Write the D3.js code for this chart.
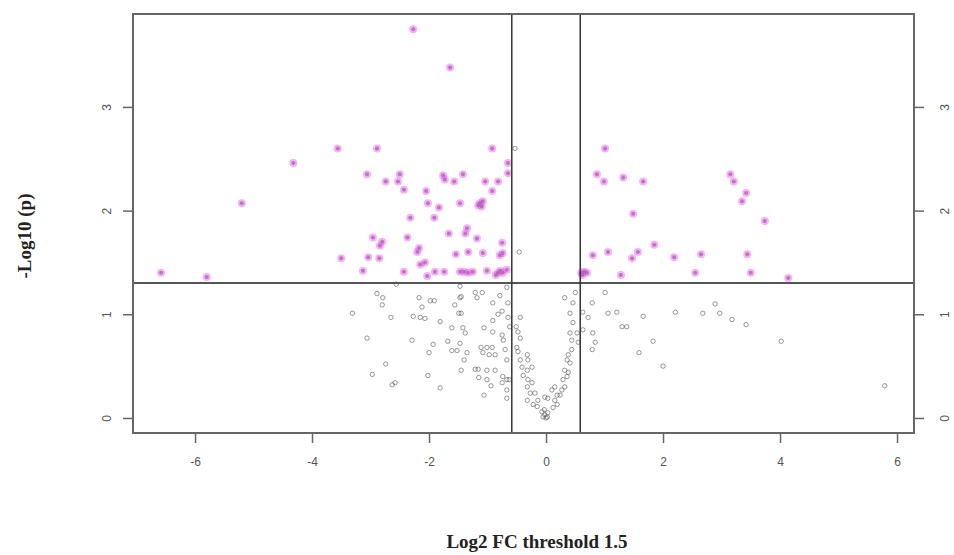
<!DOCTYPE html>
<html>
<head>
<meta charset="utf-8">
<script src="https://cdn.jsdelivr.net/npm/d3@7"></script>
<style>
    body { margin: 0; background: #fff; }
    svg { display: block; }
</style>
</head>
<body>
<svg id="chart" width="954" height="555"></svg>
<script>
// significant features (|log2 FC| > log2(1.5) and p < 0.05) : [log2FC, -log10 p]
let sigPoints = [
    [-2.27, 3.75], [-1.64, 3.38], [-3.56, 2.60], [-2.89, 2.60], [-0.92, 2.60], [-4.32, 2.46], [-5.20, 2.07],
    [-6.58, 1.40], [-5.80, 1.36], [-3.06, 2.35], [-2.74, 2.28], [-2.50, 2.35], [-2.53, 2.28], [-2.43, 2.20],
    [-2.05, 2.19], [-2.02, 2.07], [-1.83, 2.03], [-2.32, 1.93], [-1.91, 1.93], [-1.76, 2.34], [-1.73, 2.30],
    [-1.57, 2.28], [-1.42, 2.35], [-1.47, 2.07], [-1.04, 2.28], [-0.82, 2.28], [-0.92, 2.19], [-0.65, 2.46],
    [-0.65, 2.36], [-1.13, 2.07], [-1.08, 2.09], [-1.16, 2.05], [-1.10, 2.04], [-2.96, 1.74], [-2.80, 1.70],
    [-2.84, 1.66], [-2.37, 1.74], [-2.17, 1.64], [-2.20, 1.60], [-1.66, 1.78], [-1.35, 1.83], [-1.38, 1.78],
    [-1.18, 1.73], [-0.75, 1.69], [-3.50, 1.54], [-3.04, 1.55], [-2.85, 1.54], [-1.54, 1.58], [-1.33, 1.60],
    [-1.08, 1.59], [-0.79, 1.57], [-0.74, 1.59], [-3.13, 1.42], [-2.43, 1.41], [-2.15, 1.48], [-2.07, 1.50],
    [-2.03, 1.37], [-1.90, 1.41], [-1.74, 1.41], [-1.47, 1.41], [-1.40, 1.41], [-1.33, 1.40], [-1.25, 1.41],
    [-1.01, 1.42], [-0.82, 1.40], [-0.74, 1.40], [-0.67, 1.43], [-0.86, 1.38], [-0.78, 1.42],
    [1.01, 2.60], [0.87, 2.35], [0.99, 2.28], [1.32, 2.32], [1.66, 2.28], [1.49, 1.97], [0.80, 1.57],
    [1.06, 1.60], [1.47, 1.54], [1.57, 1.60], [1.85, 1.67], [2.19, 1.55], [2.65, 1.58], [1.28, 1.38],
    [2.55, 1.40], [3.15, 2.35], [3.21, 2.28], [3.42, 2.17], [3.35, 2.09], [3.74, 1.90], [3.44, 1.58],
    [3.50, 1.40], [4.14, 1.35], [0.60, 1.40], [0.65, 1.41], [0.70, 1.40], [0.62, 1.38]
];

// not significant features
let nsPoints = [
    [-3.31, 1.01], [-2.89, 1.20], [-2.79, 1.16], [-2.80, 1.09], [-2.65, 0.97], [-3.06, 0.77], [-2.74, 0.52],
    [-2.97, 0.42], [-2.58, 0.34], [-2.63, 0.32], [-2.29, 0.75], [-2.27, 0.98], [-2.15, 0.97], [-2.07, 0.96],
    [-2.17, 1.16], [-2.12, 1.07], [-1.98, 1.13], [-1.91, 1.13], [-1.81, 0.93], [-1.93, 0.71], [-2.00, 0.63],
    [-2.02, 0.41], [-1.81, 0.29], [-1.56, 1.09], [-1.47, 1.16], [-1.49, 1.01], [-1.45, 1.01], [-1.61, 0.87],
    [-1.42, 0.87], [-1.38, 0.82], [-1.68, 0.74], [-1.47, 0.72], [-1.61, 0.65], [-1.52, 0.65], [-1.35, 0.63],
    [-1.40, 0.56], [-1.45, 0.46], [-1.21, 1.21], [-1.09, 1.21], [-1.18, 1.16], [-1.45, 1.17], [-0.91, 1.11],
    [-1.06, 0.87], [-0.91, 0.83], [-0.75, 1.03], [-0.91, 0.94], [-1.11, 0.68], [-1.01, 0.68], [-0.92, 0.68],
    [-1.08, 0.63], [-0.97, 0.61], [-0.87, 0.61], [-0.73, 0.75], [-0.70, 0.66], [-0.67, 0.56], [-1.21, 0.47],
    [-1.16, 0.47], [-1.01, 0.46], [-0.87, 0.46], [-1.15, 0.39], [-1.01, 0.37], [-0.94, 0.31], [-1.06, 0.22],
    [-0.74, 0.40], [-0.75, 0.34], [-0.67, 0.37], [-0.63, 0.37], [-0.67, 0.27], [-0.67, 0.19], [-0.67, 1.26],
    [-0.65, 1.11], [-0.79, 1.18], [-0.62, 0.88], [-0.75, 0.80], [-0.82, 1.00], [-0.65, 0.97], [-2.56, 1.29],
    [-1.47, 1.27],
    [-0.51, 0.88], [-0.48, 0.83], [-0.44, 0.77], [-0.50, 0.68], [-0.48, 0.64], [-0.44, 0.56], [-0.41, 0.49],
    [-0.32, 0.46], [-0.39, 0.41], [-0.44, 0.97], [-0.31, 0.37], [-0.24, 0.34], [-0.32, 0.30], [-0.19, 0.24],
    [-0.27, 0.24], [-0.32, 0.17], [-0.14, 0.17], [-0.22, 0.13], [-0.15, 0.11], [-0.07, 0.06], [-0.02, 0.03],
    [0.02, 0.01], [0.03, 0.05], [-0.05, 0.01], [0.00, 0.00], [-0.03, 0.08], [0.12, 0.10], [0.19, 0.13],
    [0.15, 0.17], [0.24, 0.22], [0.27, 0.27], [0.32, 0.30], [0.29, 0.37], [0.36, 0.40], [0.38, 0.44],
    [0.32, 0.46], [0.41, 0.53], [0.36, 0.56], [0.38, 0.61], [0.44, 0.66], [0.44, 0.75], [0.41, 0.82],
    [0.46, 0.92], [0.41, 1.01], [0.32, 1.16], [0.46, 1.11], [0.50, 1.21], [0.53, 0.82], [0.55, 0.73],
    [-0.31, 0.56], [-0.32, 0.61], [-0.24, 0.49], [0.15, 0.30], [0.10, 0.27], [0.19, 0.22], [0.03, 0.19],
    [-0.02, 0.20], [-0.53, 2.60], [-0.46, 1.60],
    [0.63, 1.02], [0.72, 0.97], [0.80, 0.82], [0.84, 0.73], [0.79, 0.66], [0.63, 0.85], [1.01, 1.21],
    [0.79, 1.11], [1.06, 1.01], [1.21, 1.02], [1.30, 0.88], [1.38, 0.88], [1.66, 0.98], [1.83, 0.74],
    [1.59, 0.63], [2.00, 0.50], [2.21, 1.02], [2.68, 1.01], [2.89, 1.10], [2.97, 1.01], [3.18, 0.95],
    [3.42, 0.90], [4.02, 0.74], [5.79, 0.31]
];

let xTicks = [-6, -4, -2, 0, 2, 4, 6];
let yTicks = [0, 1, 2, 3];
let fcCut = Math.log2(1.5);
let pCut = -Math.log10(0.05);

let xLabel = "Log2 FC threshold 1.5";
let yLabel = "-Log10 (p)";

let svg = d3.select("#chart");

// plot region
let plotLeft = 133, plotRight = 914, plotTop = 14, plotBottom = 433;

let x = d3.scaleLinear().domain([-7.06, 6.29]).range([plotLeft, plotRight]);
let y = d3.scaleLinear().domain([-0.145, 3.896]).range([plotBottom, plotTop]);

let axisColor = "#666";
let plainNum = d => String(d); // R uses a plain hyphen for negatives

// bottom axis
svg.append("g")
    .attr("transform", "translate(0," + plotBottom + ")")
    .call(d3.axisBottom(x).tickValues(xTicks).tickSize(10).tickPadding(14).tickFormat(plainNum))
    .call(g => g.select(".domain").remove());

// left and right axes, R style rotated labels
svg.append("g")
    .attr("transform", "translate(" + plotLeft + ",0)")
    .call(d3.axisLeft(y).tickValues(yTicks).tickSize(10).tickFormat(plainNum))
    .call(g => g.select(".domain").remove())
    .call(g => g.selectAll("text")
        .attr("x", 0).attr("y", -26).attr("dy", "0.35em")
        .attr("transform", "rotate(-90)")
        .attr("text-anchor", "middle"));

svg.append("g")
    .attr("transform", "translate(" + plotRight + ",0)")
    .call(d3.axisRight(y).tickValues(yTicks).tickSize(10).tickFormat(plainNum))
    .call(g => g.select(".domain").remove())
    .call(g => g.selectAll("text")
        .attr("x", 0).attr("y", 31).attr("dy", "0.35em")
        .attr("transform", "rotate(-90)")
        .attr("text-anchor", "middle"));

svg.selectAll(".tick line").attr("stroke", axisColor).attr("stroke-width", 1.5);
svg.selectAll(".tick text")
    .attr("fill", "#555")
    .style("font-family", "'Liberation Sans', Arial, sans-serif")
    .style("font-size", "12px");

// non significant points
svg.append("g").selectAll("circle")
    .data(nsPoints)
    .join("circle")
    .attr("cx", d => x(d[0]))
    .attr("cy", d => y(d[1]))
    .attr("r", 2.2)
    .attr("fill", "none")
    .attr("stroke", "#555")
    .attr("stroke-opacity", 0.6)
    .attr("stroke-width", 1);

// significant points: soft magenta halo with a darker core
let sig = svg.append("g");
sig.selectAll("circle.halo")
    .data(sigPoints)
    .join("circle")
    .attr("class", "halo")
    .attr("cx", d => x(d[0]))
    .attr("cy", d => y(d[1]))
    .attr("r", 4)
    .attr("fill", "#f050f0")
    .attr("fill-opacity", 0.45);

sig.selectAll("circle.core")
    .data(sigPoints)
    .join("circle")
    .attr("class", "core")
    .attr("cx", d => x(d[0]))
    .attr("cy", d => y(d[1]))
    .attr("r", 2)
    .attr("fill", "#a068a8")
    .attr("fill-opacity", 0.75);

// threshold lines
svg.append("line")
    .attr("x1", plotLeft).attr("x2", plotRight)
    .attr("y1", y(pCut)).attr("y2", y(pCut))
    .attr("stroke", "#555").attr("stroke-width", 2);

[-fcCut, fcCut].forEach(v => {
    svg.append("line")
        .attr("x1", x(v)).attr("x2", x(v))
        .attr("y1", plotTop).attr("y2", plotBottom)
        .attr("stroke", "#333").attr("stroke-width", 1.5);
});

// plot box
svg.append("rect")
    .attr("x", plotLeft).attr("y", plotTop)
    .attr("width", plotRight - plotLeft).attr("height", plotBottom - plotTop)
    .attr("fill", "none")
    .attr("stroke", axisColor)
    .attr("stroke-width", 2);

// axis titles
svg.append("text")
    .attr("x", 537).attr("y", 548)
    .attr("text-anchor", "middle")
    .style("font-family", "'Liberation Serif', 'Times New Roman', serif")
    .style("font-weight", "bold")
    .style("font-size", "19px")
    .attr("fill", "#222")
    .text(xLabel);

svg.append("text")
    .attr("transform", "translate(31,236) rotate(-90)")
    .attr("text-anchor", "middle")
    .style("font-family", "'Liberation Serif', 'Times New Roman', serif")
    .style("font-weight", "bold")
    .style("font-size", "19px")
    .attr("fill", "#222")
    .text(yLabel);
</script>
</body>
</html>
